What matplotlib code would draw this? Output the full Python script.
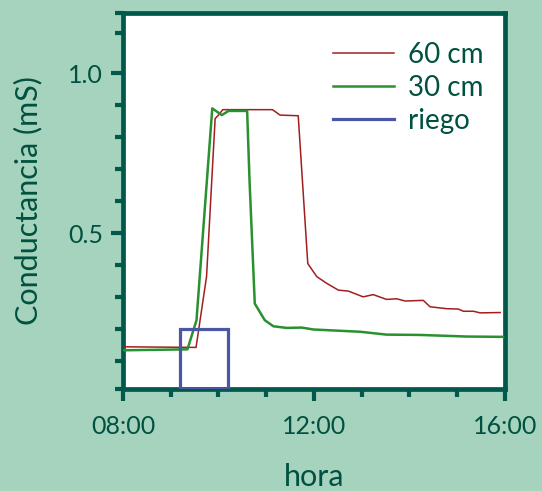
import matplotlib
matplotlib.use("Agg")
import matplotlib.pyplot as plt
from matplotlib.ticker import FixedLocator, FixedFormatter

# ---- data (hours since midnight, conductance in mS) ----
red_h = [8.0, 9.53, 9.75, 9.93, 10.0, 10.09, 11.13, 11.29, 11.67, 11.87, 12.06,
         12.27, 12.51, 12.72, 13.03, 13.24, 13.52, 13.73, 13.91, 14.29, 14.43,
         14.78, 15.02, 15.13, 15.34, 15.48, 15.90]
red_v = [0.145, 0.143, 0.364, 0.858, 0.869, 0.886, 0.886, 0.869, 0.867, 0.405, 0.364,
         0.343, 0.322, 0.319, 0.301, 0.308, 0.293, 0.295, 0.288, 0.290, 0.270,
         0.264, 0.263, 0.256, 0.256, 0.251, 0.252]

green_h = [8.0, 9.35, 9.54, 9.55, 9.87, 10.07, 10.21, 10.60, 10.65, 10.76, 10.97,
           11.15, 11.43, 11.74, 11.99, 12.96, 13.52, 14.22, 15.20, 15.96]
green_v = [0.134, 0.137, 0.228, 0.249, 0.890, 0.869, 0.882, 0.882, 0.666, 0.280, 0.228,
           0.209, 0.204, 0.205, 0.199, 0.192, 0.183, 0.182, 0.177, 0.176]

riego_h = [9.19, 9.19, 10.20, 10.20, 9.19]
riego_v = [0.013, 0.200, 0.200, 0.013, 0.013]

series_labels = ["60 cm", "30 cm", "riego"]
x_tick_vals = [8, 12, 16]
x_tick_labels = ["08:00", "12:00", "16:00"]
y_tick_vals = [0.5, 1.0]
y_tick_labels = ["0.5", "1.0"]

# ---- style ----
BG = "#a6d3be"
DARK = "#00594a"
TXT = "#00513f"
RED = "#a01f1f"
GREEN = "#2b902f"
BLUE = "#4a57a3"

plt.rcParams['font.family'] = ['Lato', 'DejaVu Sans']

fig = plt.figure(figsize=(5.42, 4.91), dpi=100, facecolor=BG)
ax = fig.add_axes([0.2269, 0.2077, 0.9317 - 0.2269, 0.9735 - 0.2077])
ax.set_facecolor("white")

ax.plot(red_h, red_v, color=RED, lw=1.1, label=series_labels[0], zorder=3)
ax.plot(green_h, green_v, color=GREEN, lw=1.8, label=series_labels[1], zorder=3)
ax.plot(riego_h, riego_v, color=BLUE, lw=2.3, label=series_labels[2], zorder=4,
        solid_joinstyle='miter')

ymin, ymax = 0.013, 1.188
ax.set_xlim(8, 16)
ax.set_ylim(ymin, ymax)

for s in ax.spines.values():
    s.set_color(DARK)
    s.set_linewidth(3.4)

ax.xaxis.set_major_locator(FixedLocator(x_tick_vals))
ax.xaxis.set_major_formatter(FixedFormatter(x_tick_labels))
ax.xaxis.set_minor_locator(FixedLocator([9, 10, 11, 13, 14, 15]))
ax.yaxis.set_major_locator(FixedLocator(y_tick_vals))
ax.yaxis.set_major_formatter(FixedFormatter(y_tick_labels))
ax.yaxis.set_minor_locator(FixedLocator([ymin, 0.1, 0.2, 0.3, 0.4, 0.6, 0.7, 0.8, 0.9, 1.125, ymax]))

ax.tick_params(axis='both', which='major', direction='out', length=8.5, width=3,
               color=DARK, labelcolor=TXT, labelsize=18)
ax.tick_params(axis='both', which='minor', direction='out', length=5.5, width=3, color=DARK)
ax.tick_params(axis='y', which='major', pad=6)
ax.tick_params(axis='x', which='major', pad=10)

ax.set_xlabel("hora", color=TXT, fontsize=22, labelpad=18)
ax.set_ylabel("Conductancia (mS)", color=TXT, fontsize=22, labelpad=18)

leg = ax.legend(loc='upper left', bbox_to_anchor=(0.52, 0.952), frameon=False,
                fontsize=20, handlelength=2.2, handletextpad=0.5, labelspacing=0.25,
                borderaxespad=0)
for t in leg.get_texts():
    t.set_color(TXT)

fig.savefig("out.png", dpi=100, facecolor=BG)
